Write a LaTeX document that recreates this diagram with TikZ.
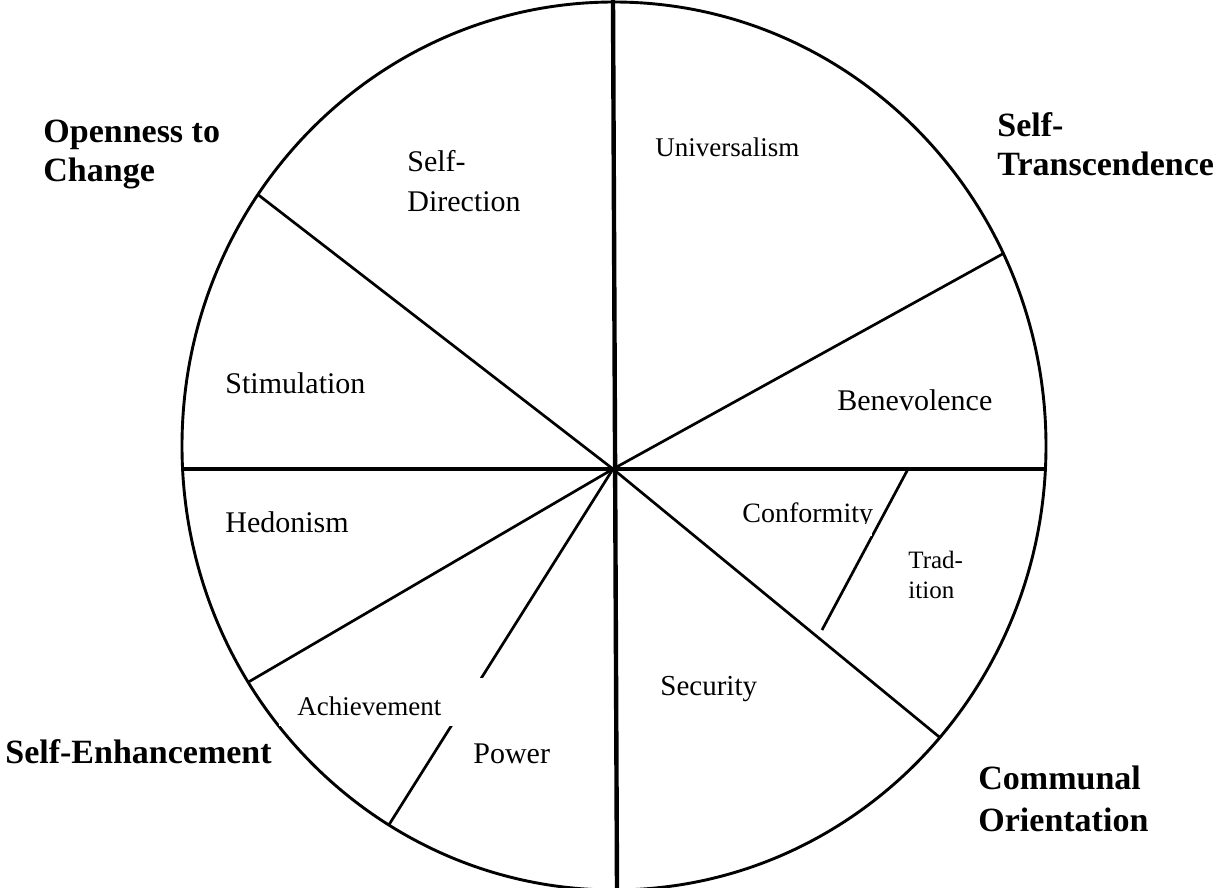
\documentclass[tikz,border=0pt]{standalone}
\usepackage{fontspec}
\setmainfont{Liberation Serif}
\begin{document}
\begin{tikzpicture}[x=0.5pt,y=-0.5pt,
  rim/.style={line width=1.45pt},
  axisline/.style={line width=2.2pt},
  spoke/.style={line width=1.35pt},
  lab/.style={anchor=base west, inner sep=0pt, font=\fontsize{15}{18}\selectfont},
  biglab/.style={anchor=base west, inner sep=0pt, font=\fontsize{17}{20}\bfseries\selectfont}]
\useasboundingbox (0,0) rectangle (1222,888);
\coordinate (hub) at (613,469);
\coordinate (c) at (614,446);
\coordinate (vtop) at (613,0);
\coordinate (vbot) at (617,888);
\coordinate (tA) at (908,469);
\coordinate (tB) at (822,630);
% spokes clipped by the rim
\begin{scope}
  \clip (c) ellipse [x radius=216pt, y radius=222pt];
  \draw[spoke] (hub) -- ++(142.3:300pt);
  \draw[spoke] (hub) -- ++(28.9:300pt);
  \draw[spoke] (hub) -- ++(-39.4:300pt);
  \draw[spoke] (hub) -- ++(210.3:300pt);
  \draw[spoke] (hub) -- ++(237.8:300pt);
  \draw[axisline] (hub) -- ++(180:300pt);
  \draw[axisline] (hub) -- ++(0:300pt);
\end{scope}
\draw[axisline] (vtop) -- (vbot);
\draw[spoke] (tA) -- (tB);
\draw[rim] (c) ellipse [x radius=216pt, y radius=222pt];
% white box behind Achievement
\fill[white] (279,678) rectangle (484,726);
% value labels
\node[lab] (sd1) at (407,172) {Self-};
\node[lab] (sd2) at (407,212) {Direction};
\node[lab, font=\fontsize{13.5}{16}\selectfont] (uni) at (655,157) {Universalism};
\node[lab] (sti) at (225,393) {Stimulation};
\node[lab] (ben) at (837,410) {Benevolence};
\node[lab] (hed) at (225,532) {Hedonism};
\node[lab, font=\fontsize{14}{16}\selectfont] (con) at (742,522) {Conformity};
\fill[white] (735,524) rectangle (872,536);
\node[lab, font=\fontsize{12.5}{15}\selectfont] (tr1) at (908,568) {Trad-};
\node[lab, font=\fontsize{12.5}{15}\selectfont] (tr2) at (908,598) {ition};
\node[lab, font=\fontsize{14.5}{16}\selectfont] (sec) at (660,695) {Security};
\node[lab, font=\fontsize{13.5}{16}\selectfont] (ach) at (297,715) {Achievement};
\node[lab] (pow) at (473,763) {Power};
% higher-order labels
\node[biglab] (oc1) at (43,143) {Openness to};
\node[biglab] (oc2) at (43,182) {Change};
\node[biglab] (st1) at (997,137) {Self-};
\node[biglab] (st2) at (997,176) {Transcendence};
\node[biglab] (se) at (5,763) {Self-Enhancement};
\node[biglab] (co1) at (978,789) {Communal};
\node[biglab] (co2) at (978,831) {Orientation};
\end{tikzpicture}
\end{document}
